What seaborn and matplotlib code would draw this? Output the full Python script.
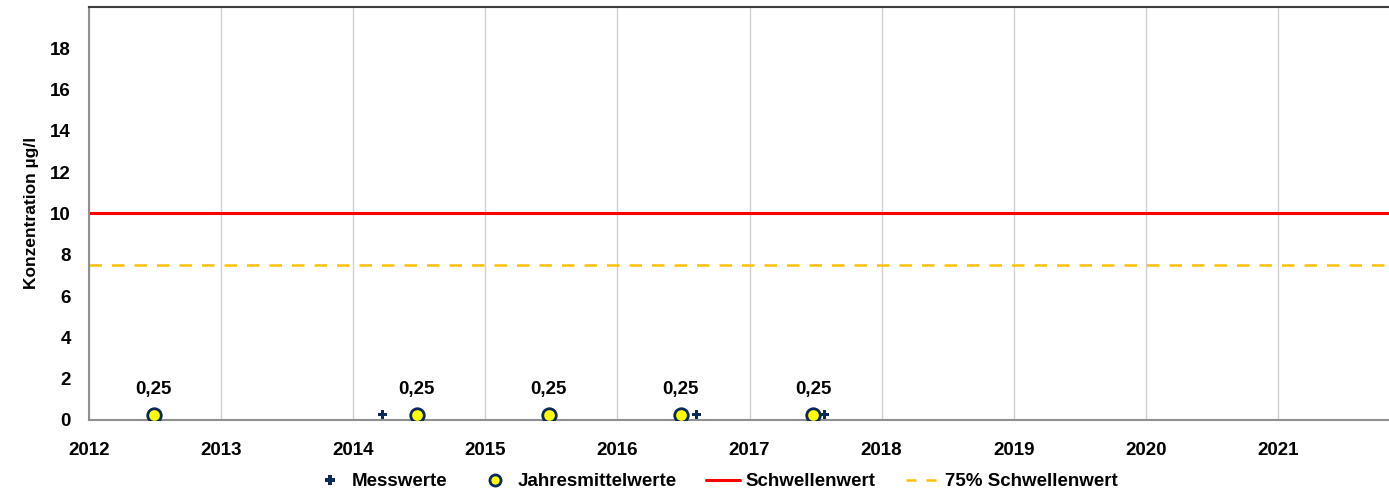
import numpy as np
import pandas as pd
import matplotlib
matplotlib.use('Agg')
import matplotlib.pyplot as plt
from matplotlib.lines import Line2D
import seaborn as sns

# Data
mess_x = [2012.52, 2014.22, 2016.60, 2017.57]
mess_y = [0.25, 0.25, 0.25, 0.25]

mittel_x = [2012.49, 2014.48, 2015.48, 2016.48, 2017.48]
mittel_y = [0.25, 0.25, 0.25, 0.25, 0.25]
mittel_labels = ['0,25', '0,25', '0,25', '0,25', '0,25']

schwelle = 10.0
schwelle_75 = 7.5
x_range = [2012.0, 2021.84]
year_ticks = list(range(2012, 2022))
y_ticks = list(range(0, 20, 2))

sns.set_style('white')
plt.rcParams['font.family'] = ['Liberation Sans', 'DejaVu Sans']
plt.rcParams['font.weight'] = 'bold'
plt.rcParams['text.color'] = 'black'
plt.rcParams['axes.labelcolor'] = 'black'
plt.rcParams['xtick.color'] = 'black'
plt.rcParams['ytick.color'] = 'black'

fig = plt.figure(figsize=(13.89, 4.9), dpi=100)
ax = fig.add_axes([0.064, 0.143, 0.936, 0.843])

navy = '#0b2a5c'
fs = 13.5

# threshold lines
df_s = pd.DataFrame({'x': x_range, 'y': [schwelle] * 2})
df_s75 = pd.DataFrame({'x': x_range, 'y': [schwelle_75] * 2})
sns.lineplot(data=df_s, x='x', y='y', color='#ff0000', lw=2.2, ax=ax, zorder=2)
sns.lineplot(data=df_s75, x='x', y='y', color='#ffc000', lw=1.8, ax=ax, zorder=2,
             dashes=False, linestyle=(0, (5, 4)))

# points
sns.scatterplot(x=mess_x, y=mess_y, marker='P', s=45, color=navy, edgecolor='none',
                ax=ax, zorder=4)
sns.scatterplot(x=mittel_x, y=mittel_y, marker='o', s=95, color='#ffff00',
                edgecolor=navy, linewidth=2, ax=ax, zorder=5)

for x, y, t in zip(mittel_x, mittel_y, mittel_labels):
    ax.annotate(t, (x, y), xytext=(0, 12), textcoords='offset points',
                ha='center', va='bottom', fontsize=fs, fontweight='bold')

ax.set_xlim(x_range)
ax.set_ylim(0, 20)
ax.set_xticks(year_ticks)
ax.set_xticklabels([str(y) for y in year_ticks], fontsize=fs, fontweight='bold')
ax.set_yticks(y_ticks)
ax.set_yticklabels([str(y) for y in y_ticks], fontsize=fs, fontweight='bold')
ax.tick_params(axis='x', direction='out', length=6, color='#a0a0a0',
               labelcolor='black', pad=10)
ax.tick_params(axis='y', direction='out', length=5, color='#a0a0a0',
               labelcolor='black', pad=8)

ax.xaxis.grid(True, color='#d0d0d0', lw=1)
ax.yaxis.grid(False)
ax.set_axisbelow(True)

for side in ['left', 'bottom']:
    ax.spines[side].set_color('#909090')
    ax.spines[side].set_linewidth(1.5)
ax.spines['top'].set_color('#404040')
ax.spines['top'].set_linewidth(1.5)
ax.spines['right'].set_visible(False)

ax.set_xlabel('')
ax.set_ylabel('Konzentration µg/l', fontsize=12.5, fontweight='bold',
              labelpad=8, color='black')

handles = [
    Line2D([], [], marker='P', color=navy, lw=0, markersize=7, markeredgewidth=0),
    Line2D([], [], marker='o', markerfacecolor='#ffff00', markeredgecolor=navy,
           markeredgewidth=2, lw=0, markersize=8),
    Line2D([], [], color='#ff0000', lw=2.2),
    Line2D([], [], color='#ffc000', lw=1.8, linestyle=(0, (4, 4))),
]
labels = ['Messwerte', 'Jahresmittelwerte', 'Schwellenwert', '75% Schwellenwert']
leg = fig.legend(handles, labels, loc='lower center', bbox_to_anchor=(0.515, -0.035),
                 ncol=4, frameon=False, fontsize=fs, handlelength=1.8,
                 handletextpad=0.3, columnspacing=1.6)
for t in leg.get_texts():
    t.set_fontweight('bold')
    t.set_color('black')

fig.savefig('out.png', dpi=100)
